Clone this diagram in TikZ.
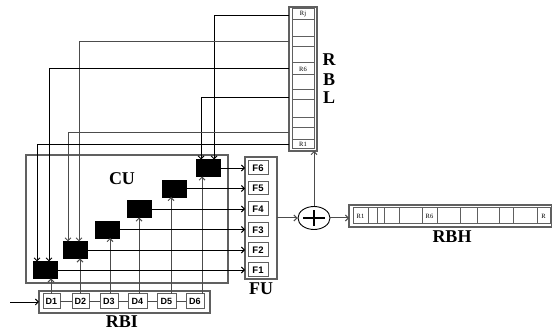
\documentclass[tikz,border=0pt]{standalone}
\usepackage{fontspec}
\setmainfont{Liberation Serif}
\newfontfamily\lsans{Liberation Sans}
\usetikzlibrary{arrows.meta,fit,shapes.geometric}
\newcommand\pxbox[8]{%
  \path (#2,#3) coordinate (#1-nw) (#4,#5) coordinate (#1-se);
  \node[fit=(#1-nw)(#1-se), inner sep=0pt, outer sep=0pt, #6] (#1) {};
  \node[inner sep=0pt, #7] (#1-t) at (#1.center) {#8};}
\begin{document}
\begin{tikzpicture}[x=1pt,y=-1pt,
  gbox/.style={draw=gray!75!black, line width=1.1pt},
  cell/.style={draw=gray!75!black, line width=1pt},
  mux/.style={fill=black, draw=black, minimum width=24pt, minimum height=17pt, inner sep=0pt, outer sep=0pt},
  ln/.style={draw=black, line width=0.9pt},
  gln/.style={draw=gray!60!black, line width=1pt},
  tip/.style={-{Straight Barb[length=3pt,width=6pt]}},
  big/.style={font=\bfseries\fontsize{18}{18}\selectfont, inner sep=0pt},
  dlab/.style={font=\lsans\bfseries\fontsize{9}{9}\selectfont},
  flab/.style={font=\lsans\bfseries\fontsize{9.5}{9.5}\selectfont},
  rlab/.style={font=\fontsize{6.5}{6.5}\selectfont},
  nolab/.style={}
]
\useasboundingbox (0,0) rectangle (552,331);

% control unit frame
\pxbox{cu}{26}{155}{228}{283}{gbox}{nolab}{}

% RBL register bank
\pxbox{rbl}{289}{7}{317}{151}{gbox}{nolab}{}
\pxbox{rl1}{292}{9}{314}{20}{cell}{rlab}{Rj}
\pxbox{rl2}{292}{20}{314}{37}{cell}{nolab}{}
\pxbox{rl3}{292}{37}{314}{47}{cell}{nolab}{}
\pxbox{rl4}{292}{47}{314}{63}{cell}{nolab}{}
\pxbox{rl5}{292}{63}{314}{75}{cell}{rlab}{R6}
\pxbox{rl6}{292}{75}{314}{90}{cell}{nolab}{}
\pxbox{rl7}{292}{90}{314}{100}{cell}{nolab}{}
\pxbox{rl8}{292}{100}{314}{118}{cell}{nolab}{}
\pxbox{rl9}{292}{118}{314}{128}{cell}{nolab}{}
\pxbox{rl10}{292}{128}{314}{140}{cell}{nolab}{}
\pxbox{rl11}{292}{140}{314}{149}{cell}{rlab}{R1}
\node[big] (lR) at (329,60) {R};
\node[big] (lB) at (329,80) {B};
\node[big] (lL) at (329,98) {L};

% FU
\pxbox{fu}{245}{157}{277}{279}{gbox}{nolab}{}
\pxbox{f6}{248}{161}{268}{175}{cell}{flab}{F6}
\pxbox{f5}{248}{182}{268}{195}{cell}{flab}{F5}
\pxbox{f4}{248}{202}{268}{216}{cell}{flab}{F4}
\pxbox{f3}{248}{223}{268}{237}{cell}{flab}{F3}
\pxbox{f2}{248}{243}{268}{257}{cell}{flab}{F2}
\pxbox{f1}{248}{263}{268}{277}{cell}{flab}{F1}
\node[big] (fulab) at (261,289) {FU};

% RBI
\pxbox{rbi}{39}{291}{210}{313}{gbox}{nolab}{}
\pxbox{d1}{43}{294}{60}{309}{cell}{dlab}{D1}
\pxbox{d2}{72}{294}{89}{309}{cell}{dlab}{D2}
\pxbox{d3}{100}{294}{118}{309}{cell}{dlab}{D3}
\pxbox{d4}{128}{294}{147}{309}{cell}{dlab}{D4}
\pxbox{d5}{157}{294}{176}{309}{cell}{dlab}{D5}
\pxbox{d6}{186}{294}{204}{309}{cell}{dlab}{D6}
\node[big] (rbilab) at (122,322) {RBI};
\draw[gln] (d1.east) -- (d2.west);
\draw[gln] (d2.east) -- (d3.west);
\draw[gln] (d3.east) -- (d4.west);
\draw[gln] (d4.east) -- (d5.west);
\draw[gln] (d5.east) -- (d6.west);
\coordinate (in) at (10,302);
\draw[ln, tip] (in) -- (rbi.west |- in);

% multiplexers
\node[mux] (m1) at (45,270) {};
\node[mux] (m2) at (75,250) {};
\node[mux] (m3) at (107.5,229.5) {};
\node[mux] (m4) at (139,209) {};
\node[mux] (m5) at (174,188.5) {};
\node[mux] (m6) at (208,168) {};
\node[big] (culab) at (122,179) {CU};

% D -> mux
\coordinate (v1) at (51,0);
\coordinate (v2) at (80,0);
\coordinate (v3) at (110,0);
\coordinate (v4) at (139,0);
\coordinate (v5) at (171,0);
\coordinate (v6) at (202,0);
\draw[gln, tip] (d1.north -| v1) -- (m1.south -| v1);
\draw[gln, tip] (d2.north -| v2) -- (m2.south -| v2);
\draw[gln, tip] (d3.north -| v3) -- (m3.south -| v3);
\draw[gln, tip] (d4.north -| v4) -- (m4.south -| v4);
\draw[gln, tip] (d5.north -| v5) -- (m5.south -| v5);
\draw[gln, tip] (d6.north -| v6) -- (m6.south -| v6);

% mux -> FU
\draw[ln, tip] (m1.east) -- (fu.west |- m1.east);
\draw[ln, tip] (m2.east) -- (fu.west |- m2.east);
\draw[ln, tip] (m3.east) -- (fu.west |- m3.east);
\draw[ln, tip] (m4.east) -- (fu.west |- m4.east);
\draw[ln, tip] (m5.east) -- (fu.west |- m5.east);
\draw[ln, tip] (m6.east) -- (fu.west |- m6.east);

% RBL -> mux feedback lines
\coordinate (h15) at (0,15);
\coordinate (h42) at (0,42);
\coordinate (h68) at (0,68);
\coordinate (h97) at (0,97);
\coordinate (h133) at (0,133);
\coordinate (h144) at (0,144);
\draw[ln, tip] (rbl.west |- h15) -| ([xshift=6pt]m6.north);
\draw[gln, tip] (rbl.west |- h42) -| ([xshift=4pt]m2.north);
\draw[ln, tip] (rbl.west |- h68) -| ([xshift=4pt]m1.north);
\draw[ln, tip] (rbl.west |- h97) -| ([xshift=-7pt]m6.north);
\draw[gln, tip] (rbl.west |- h133) -| ([xshift=-7pt]m2.north);
\draw[ln, tip] (rbl.west |- h144) -| ([xshift=-8pt]m1.north);

% adder
\node[ellipse, draw=black, line width=0.9pt, minimum width=32pt, minimum height=23pt, inner sep=0pt] (add) at (314,218) {};
\draw[line width=1.8pt] ([xshift=-11pt]add.center) -- ([xshift=11pt]add.center);
\draw[line width=1.8pt] ([yshift=-8pt]add.center) -- ([yshift=8pt]add.center);
\draw[gln, tip] (fu.east |- add.west) -- (add.west);
\draw[gln, tip] (add.north) -- (add.north |- rbl.south);

% RBH register bank
\pxbox{rbh}{349}{205}{551.5}{227}{gbox}{nolab}{}
\pxbox{rh1}{353}{208}{368}{224}{cell}{rlab}{R1}
\pxbox{rh2}{368}{208}{377}{224}{cell}{nolab}{}
\pxbox{rh3}{377}{208}{384}{224}{cell}{nolab}{}
\pxbox{rh4}{384}{208}{399}{224}{cell}{nolab}{}
\pxbox{rh5}{399}{208}{422}{224}{cell}{nolab}{}
\pxbox{rh6}{422}{208}{437}{224}{cell}{rlab}{R6}
\pxbox{rh7}{437}{208}{460}{224}{cell}{nolab}{}
\pxbox{rh8}{460}{208}{477}{224}{cell}{nolab}{}
\pxbox{rh9}{477}{208}{499}{224}{cell}{nolab}{}
\pxbox{rh10}{499}{208}{513}{224}{cell}{nolab}{}
\pxbox{rh11}{513}{208}{537}{224}{cell}{nolab}{}
\pxbox{rh12}{537}{208}{550}{224}{cell}{rlab}{R}
\draw[gln, tip] (add.east) -- (rbh.west |- add.east);
\node[big] (rbhlab) at (452,237) {RBH};
\end{tikzpicture}
\end{document}
